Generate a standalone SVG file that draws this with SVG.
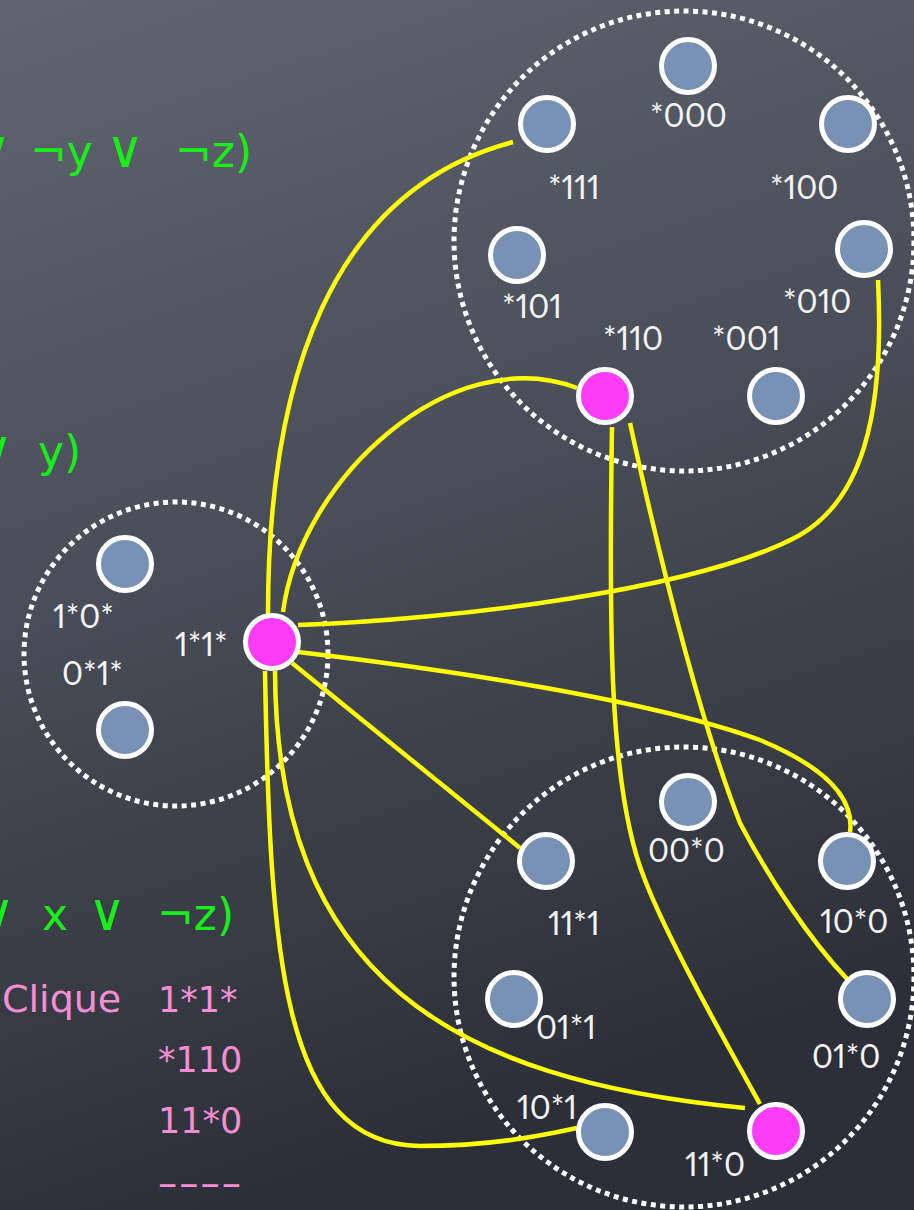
<svg xmlns="http://www.w3.org/2000/svg" width="914" height="1210" viewBox="0 0 914 1210">
<defs>
<linearGradient id="bg" x1="0" y1="0" x2="0.25" y2="1">
<stop offset="0" stop-color="#60646f"/>
<stop offset="0.45" stop-color="#4b4f59"/>
<stop offset="1" stop-color="#2c2f37"/>
</linearGradient>
<style>
.grp{fill:none;stroke:#ffffff;stroke-width:5;stroke-dasharray:5 4.5}
.edge{fill:none;stroke:#ffff00;stroke-width:4.5;stroke-linecap:butt}
.n{fill:#7991b5;stroke:#ffffff;stroke-width:5}
.m{fill:#ff3cfa;stroke:#ffffff;stroke-width:5}
.lbl{fill:#f4f4f4;font-family:Lato,"DejaVu Sans",sans-serif;font-size:32px;font-variant-numeric:proportional-nums}
.g{fill:#18ee18;font-family:"DejaVu Sans",sans-serif;font-size:44px}
.v{font-size:52px}
.p{fill:#f58fd2;font-family:"DejaVu Sans",sans-serif;font-size:35px}
</style>
</defs>
<rect x="0" y="0" width="914" height="1210" fill="url(#bg)"/>

<g id="clusters">
<circle class="grp" cx="684" cy="241" r="230"/>
<circle class="grp" cx="176" cy="654" r="152"/>
<circle class="grp" cx="684" cy="977" r="230"/>
</g>

<g id="connectors">
<path class="edge" d="M268,614 C268,380 330,190 513,142"/>
<path class="edge" d="M283,612 C300,480 450,340 577,388"/>
<path class="edge" d="M298,625 C450,620 700,590 800,535 C860,500 885,420 878,280"/>
<path class="edge" d="M298,652 C450,670 650,700 760,740 C820,765 855,795 850,832"/>
<path class="edge" d="M292,663 L520,848"/>
<path class="edge" d="M275,671 C276,975 450,1080 745,1108"/>
<path class="edge" d="M265,671 C270,950 280,1145 420,1146 C490,1146 540,1136 577,1128"/>
<path class="edge" d="M612,427 C609,620 608,790 645,880 C668,940 730,1050 760,1104"/>
<path class="edge" d="M630,423 C660,560 700,720 740,823 C770,880 810,940 848,980"/>
</g>

<g id="n000"><circle class="n" cx="688" cy="66" r="26.5"/><text class="lbl" x="650" y="127">*000</text></g>
<g id="n111"><circle class="n" cx="547" cy="124" r="26.5"/><text class="lbl" x="548" y="199">*111</text></g>
<g id="n100"><circle class="n" cx="848" cy="124" r="26.5"/><text class="lbl" x="770" y="199">*100</text></g>
<g id="n101"><circle class="n" cx="517" cy="255" r="26.5"/><text class="lbl" x="502" y="318">*101</text></g>
<g id="n010"><circle class="n" cx="864" cy="249" r="26.5"/><text class="lbl" x="783" y="313">*010</text></g>
<g id="n110"><circle class="m" cx="605" cy="396" r="26.5"/><text class="lbl" x="603" y="350">*110</text></g>
<g id="n001"><circle class="n" cx="776" cy="396" r="26.5"/><text class="lbl" x="712" y="350">*001</text></g>

<g id="n10s"><circle class="n" cx="125" cy="564" r="26.5"/><text class="lbl" x="53" y="628">1*0*</text></g>
<g id="n01s"><circle class="n" cx="125" cy="730" r="26.5"/><text class="lbl" x="62" y="685">0*1*</text></g>
<g id="n11s"><circle class="m" cx="272" cy="642" r="26.5"/><text class="lbl" x="175" y="656">1*1*</text></g>

<g id="n00s0"><circle class="n" cx="688" cy="802" r="26.5"/><text class="lbl" x="648" y="862">00*0</text></g>
<g id="n11s1"><circle class="n" cx="546" cy="861" r="26.5"/><text class="lbl" x="548" y="935">11*1</text></g>
<g id="n10s0"><circle class="n" cx="847" cy="861" r="26.5"/><text class="lbl" x="820" y="933">10*0</text></g>
<g id="n01s1"><circle class="n" cx="514" cy="999" r="26.5"/><text class="lbl" x="536" y="1039">01*1</text></g>
<g id="n01s0"><circle class="n" cx="867" cy="999" r="26.5"/><text class="lbl" x="812" y="1068">01*0</text></g>
<g id="n10s1"><circle class="n" cx="605" cy="1132" r="26.5"/><text class="lbl" x="517" y="1119">10*1</text></g>
<g id="n11s0"><circle class="m" cx="776" cy="1131" r="26.5"/><text class="lbl" x="685" y="1176">11*0</text></g>

<g id="clauses">
<text class="g" y="167"><tspan class="v" x="-27">∨</tspan><tspan x="30">¬y</tspan><tspan class="v" x="106">∨</tspan><tspan x="175">¬z)</tspan></text>
<text class="g" y="467"><tspan class="v" x="-25">∨</tspan><tspan x="38">y)</tspan></text>
<text class="g" y="930"><tspan class="v" x="-23">∨</tspan><tspan x="42">x</tspan><tspan class="v" x="88">∨</tspan><tspan x="157">¬z)</tspan></text>
</g>

<g id="clique">
<text class="p" x="2" y="1012" style="font-size:38px">Clique</text>
<text class="p" x="158" y="1012">1*1*</text>
<text class="p" x="158" y="1072">*110</text>
<text class="p" x="158" y="1133">11*0</text>
<text class="p" x="157" y="1195" textLength="85" lengthAdjust="spacingAndGlyphs">----</text>
</g>
</svg>
